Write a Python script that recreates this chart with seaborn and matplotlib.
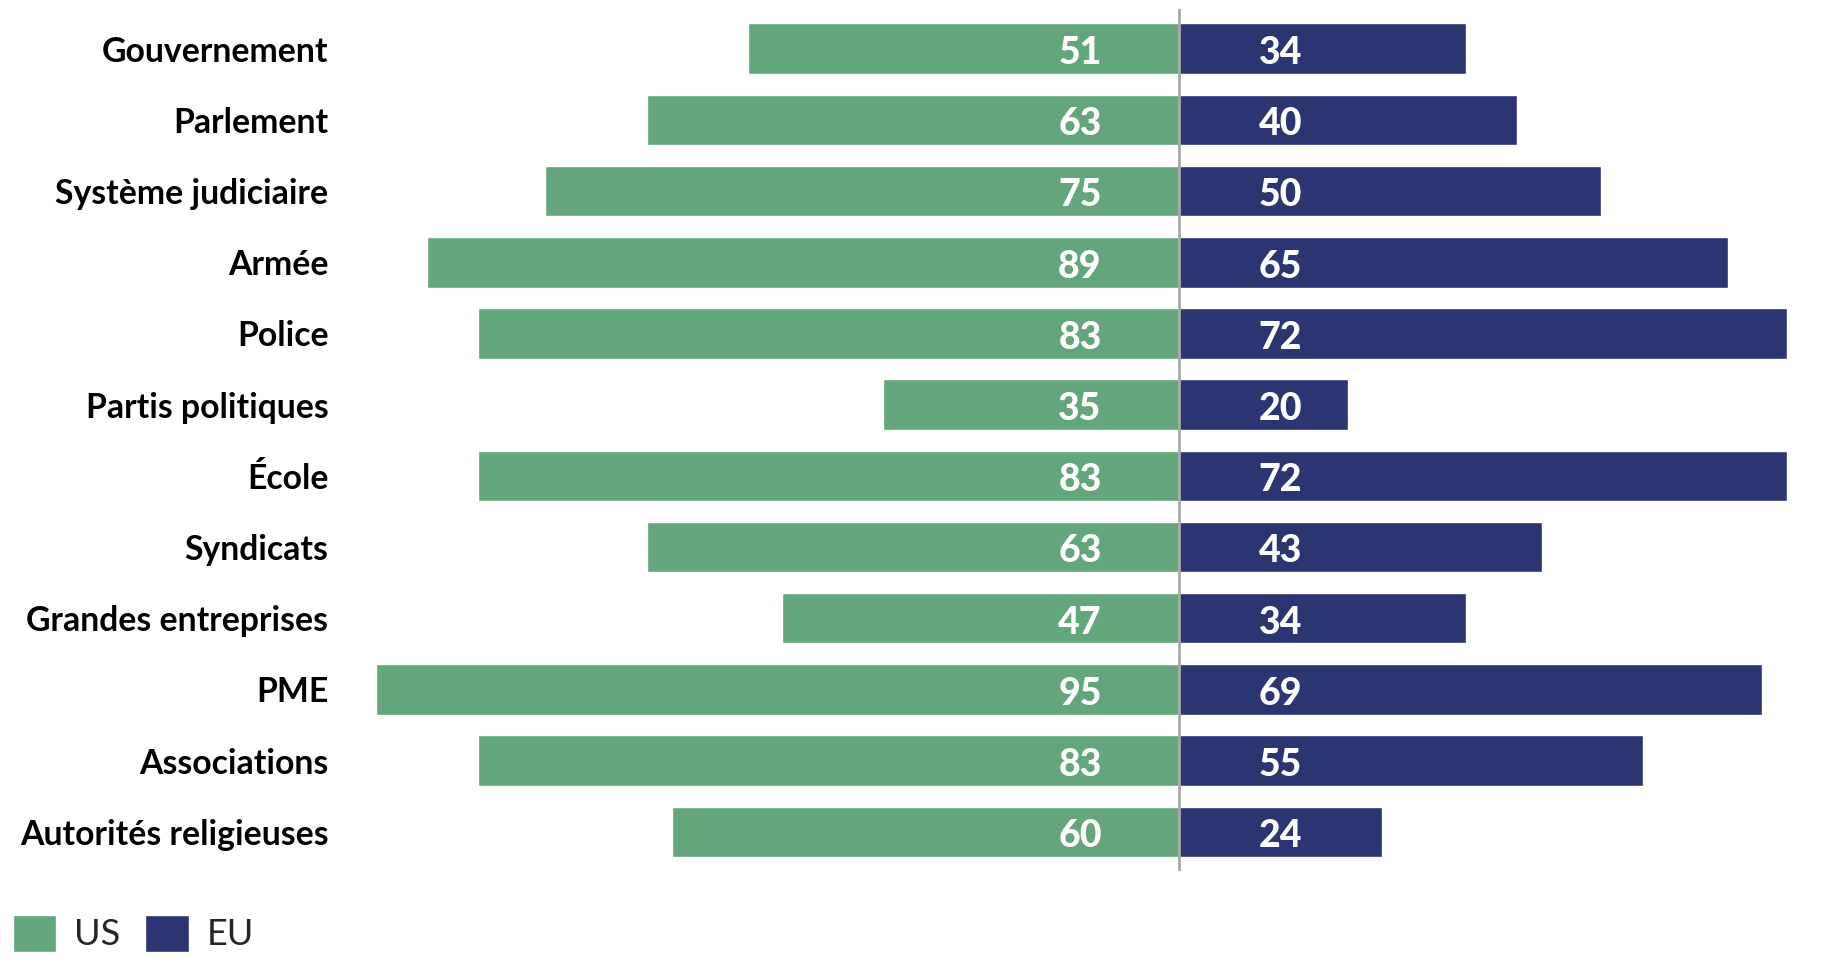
import matplotlib
matplotlib.use("Agg")
import matplotlib.pyplot as plt
import seaborn as sns
import pandas as pd

# ─── data ───────────────────────────────────────────────────────────────────
categories = [
    "Gouvernement", "Parlement", "Système judiciaire", "Armée", "Police",
    "Partis politiques", "École", "Syndicats", "Grandes entreprises",
    "PME", "Associations", "Autorités religieuses",
]
us_values = [51, 63, 75, 89, 83, 35, 83, 63, 47, 95, 83, 60]
eu_values = [34, 40, 50, 65, 72, 20, 72, 43, 34, 69, 55, 24]
series = ["US", "EU"]

GREEN = "#64A67B"
NAVY = "#2A3572"
FONT = ["Lato", "DejaVu Sans"]

df = pd.concat([
    pd.DataFrame({"cat": categories, "val": [-v for v in us_values], "pays": "US"}),
    pd.DataFrame({"cat": categories, "val": eu_values, "pays": "EU"}),
])

sns.set_theme(style="white")
plt.rcParams["font.family"] = FONT

fig = plt.figure(figsize=(18.24, 9.76), dpi=100)
ax = fig.add_axes([0.1831, 0.1076, 0.8152, 0.8827])

sns.barplot(data=df, x="val", y="cat", hue="pays", order=categories,
            hue_order=series, palette=[GREEN, NAVY], dodge=False,
            width=0.71, orient="h", saturation=1, ax=ax, legend=True)

ax.set_xlim(-100, 76)
ax.set_ylim(len(categories) - 1 + 0.55, -0.55)
ax.axvline(0, color="#A8A8A8", lw=2, zorder=5)

# value labels
for i, (u, e) in enumerate(zip(us_values, eu_values)):
    ax.text(-11.7, i + 0.02, str(u), color="white", fontsize=27, fontweight="black",
            ha="center", va="center_baseline", zorder=6)
    ax.text(12.0, i + 0.02, str(e), color="white", fontsize=27, fontweight="black",
            ha="center", va="center_baseline", zorder=6)

ax.set_xlabel(""); ax.set_ylabel("")
ax.set_xticks([])
ax.tick_params(axis="y", length=0, pad=4)
for lab in ax.get_yticklabels():
    lab.set_fontsize(24.3)
    lab.set_fontweight("bold")
    lab.set_color("black")
for s in ax.spines.values():
    s.set_visible(False)

sns.move_legend(ax, loc="lower left", bbox_to_anchor=(0.0, 0.012),
                bbox_transform=fig.transFigure, ncol=2, frameon=False,
                title=None, fontsize=26, handlelength=1.2, handleheight=1.2,
                handletextpad=0.5, columnspacing=0.7, borderpad=0.15,
                borderaxespad=0.2)

fig.savefig("out.png", dpi=100)
plt.close(fig)
